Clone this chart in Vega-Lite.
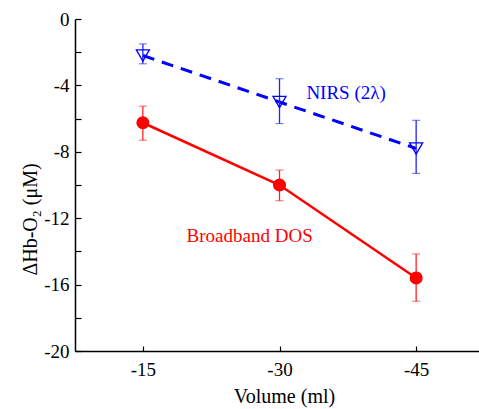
{
  "$schema": "https://vega.github.io/schema/vega-lite/v6.json",
  "width": 404,
  "height": 332,
  "autosize": "none",
  "padding": {"left": 75, "top": 19, "right": 0, "bottom": 58},
  "background": "white",
  "config": {
    "view": {"stroke": null},
    "axis": {
      "grid": false,
      "domainColor": "black",
      "domainWidth": 1.5,
      "tickColor": "black",
      "tickWidth": 1.2,
      "labelFont": "Liberation Serif",
      "titleFont": "Liberation Serif",
      "labelFontSize": 19,
      "titleFontSize": 20,
      "titleFontWeight": "normal",
      "labelColor": "black",
      "titleColor": "black"
    }
  },
  "data": {
    "values": [
      {"series": "Broadband DOS", "vol": -15, "val": -6.25, "lo": -7.3, "hi": -5.25},
      {"series": "Broadband DOS", "vol": -30, "val": -10.0, "lo": -10.95, "hi": -9.1},
      {"series": "Broadband DOS", "vol": -45, "val": -15.6, "lo": -17.0, "hi": -14.15},
      {"series": "NIRS", "vol": -15, "val": -2.2, "lo": -2.7, "hi": -1.5},
      {"series": "NIRS", "vol": -30, "val": -5.0, "lo": -6.3, "hi": -3.6},
      {"series": "NIRS", "vol": -45, "val": -7.8, "lo": -9.3, "hi": -6.1}
    ]
  },
  "encoding": {
    "x": {
      "field": "vol", "type": "quantitative",
      "scale": {"domain": [-51.9, -7.55], "reverse": true, "nice": false, "zero": false},
      "axis": {"values": [-15, -30, -45], "labelExpr": "'' + datum.value", "tickSize": -5, "labelPadding": 14, "title": "Volume (ml)", "titlePadding": 7, "titleX": 209}
    },
    "y": {
      "field": "val", "type": "quantitative",
      "scale": {"domain": [-20, 0], "nice": false},
      "axis": {"values": [0, -2, -4, -6, -8, -10, -12, -14, -16, -18, -20], "labelExpr": "datum.value % 4 === 0 ? '' + datum.value : ''", "tickSize": -6, "labelPadding": 12, "title": "ΔHb-O₂ (μM)", "titlePadding": 3, "titleY": 200}
    }
  },
  "layer": [
    {
      "transform": [{"filter": "datum.series === 'NIRS'"}],
      "mark": {"type": "line", "color": "#0000ff", "strokeWidth": 3, "strokeDash": [12, 8]}
    },
    {
      "transform": [{"filter": "datum.series === 'Broadband DOS'"}],
      "mark": {"type": "line", "color": "#ff0000", "strokeWidth": 2.5}
    },
    {
      "transform": [{"filter": "datum.series === 'NIRS'"}],
      "mark": {"type": "errorbar", "color": "#2222ff", "ticks": {"size": 8, "color": "#2222ff"}, "rule": {"strokeWidth": 1.3}},
      "encoding": {"y": {"field": "lo", "type": "quantitative"}, "y2": {"field": "hi"}}
    },
    {
      "transform": [{"filter": "datum.series === 'Broadband DOS'"}],
      "mark": {"type": "errorbar", "color": "#ff2222", "ticks": {"size": 8, "color": "#ff2222"}, "rule": {"strokeWidth": 1.3}},
      "encoding": {"y": {"field": "lo", "type": "quantitative"}, "y2": {"field": "hi"}}
    },
    {
      "transform": [{"filter": "datum.series === 'NIRS'"}],
      "mark": {"type": "point", "shape": "triangle-down", "filled": false, "color": "#0000ff", "fill": "white", "fillOpacity": 0, "strokeWidth": 1.3, "size": 170, "opacity": 1}
    },
    {
      "transform": [{"filter": "datum.series === 'Broadband DOS'"}],
      "mark": {"type": "circle", "color": "#ff0000", "size": 170, "opacity": 1}
    },
    {
      "data": {"values": [
        {"label": "NIRS (2λ)", "lx": -32.95, "ly": -4.45, "c": "blue"},
        {"label": "Broadband DOS", "lx": -19.8, "ly": -13.1, "c": "red"}
      ]},
      "mark": {"type": "text", "align": "left", "baseline": "middle", "font": "Liberation Serif", "fontSize": 19},
      "encoding": {
        "x": {"field": "lx", "type": "quantitative"},
        "y": {"field": "ly", "type": "quantitative"},
        "text": {"field": "label"},
        "color": {"field": "c", "type": "nominal", "scale": {"domain": ["blue", "red"], "range": ["#0000ff", "#ff0000"]}, "legend": null}
      }
    }
  ]
}
